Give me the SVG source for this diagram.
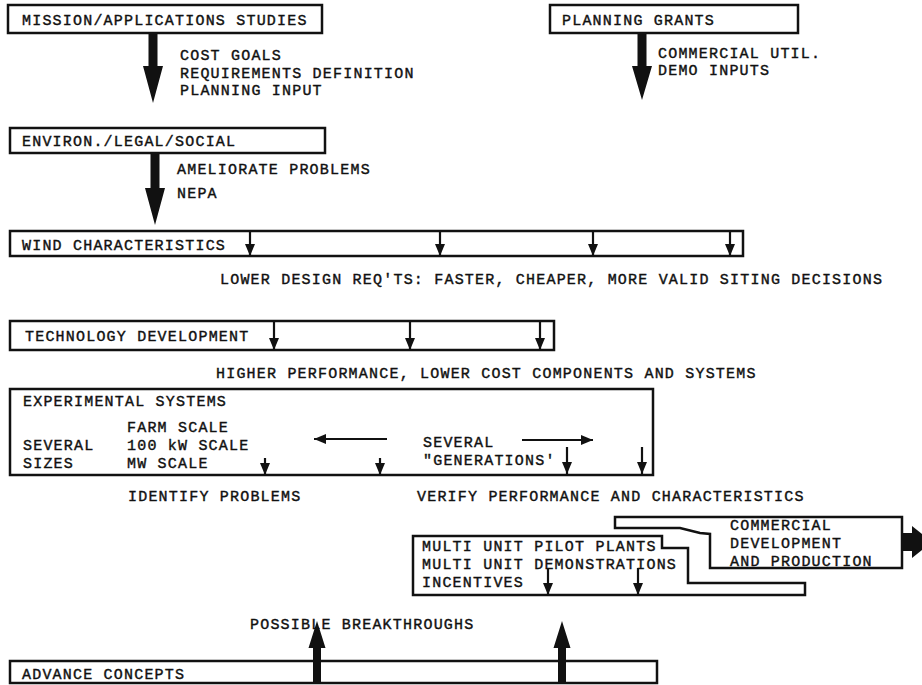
<svg xmlns="http://www.w3.org/2000/svg" width="922" height="685" viewBox="0 0 922 685">
<style>
text{font-family:"Liberation Mono","DejaVu Sans Mono",monospace;font-size:15px;letter-spacing:1.2px;fill:#111;stroke:#111;stroke-width:0.4}
.box{fill:none;stroke:#111;stroke-width:2.5}
.sa{stroke:#111;stroke-width:2.2;fill:none;marker-end:url(#tri)}
.big{fill:#111;stroke:none}
</style>
<defs>
<marker id="tri" viewBox="0 0 12 10" refX="12" refY="5" markerWidth="13" markerHeight="10" markerUnits="userSpaceOnUse" orient="auto">
<path d="M0,0 L12,5 L0,10 Z" fill="#111"/>
</marker>
</defs>
<rect width="922" height="685" fill="#fff"/>

<g id="mission">
<rect class="box" x="8" y="5" width="314" height="28"/>
<text x="22" y="25">MISSION/APPLICATIONS STUDIES</text>
</g>
<g id="planning">
<rect class="box" x="550" y="5" width="248" height="28"/>
<text x="562" y="25">PLANNING GRANTS</text>
</g>
<g id="environ">
<rect class="box" x="10" y="128" width="315" height="25"/>
<text x="22" y="146">ENVIRON./LEGAL/SOCIAL</text>
</g>
<g id="wind">
<rect class="box" x="10" y="231" width="733" height="25"/>
<text x="22" y="250">WIND CHARACTERISTICS</text>
</g>
<g id="tech">
<rect class="box" x="10" y="321" width="544" height="29"/>
<text x="25" y="341">TECHNOLOGY DEVELOPMENT</text>
</g>
<g id="experimental">
<rect class="box" x="10" y="389" width="643" height="86"/>
<text x="23" y="406">EXPERIMENTAL SYSTEMS</text>
<text x="127" y="432">FARM SCALE</text>
<text x="127" y="450">100 kW SCALE</text>
<text x="127" y="468">MW SCALE</text>
<text x="23" y="450">SEVERAL</text>
<text x="23" y="468">SIZES</text>
<text x="423" y="447">SEVERAL</text>
<text x="423" y="465">"GENERATIONS'</text>
</g>
<g id="multi">
<path class="box" d="M413,536 H662 V548 H688 V583 H805 V595 H413 Z"/>
<text x="422" y="551">MULTI UNIT PILOT PLANTS</text>
<text x="422" y="569">MULTI UNIT DEMONSTRATIONS</text>
<text x="422" y="587">INCENTIVES</text>
</g>
<g id="commercial">
<path class="box" d="M615,517 H902 V568 H710 V534 L700,533 L680,528 H615 Z"/>
<text x="730" y="530">COMMERCIAL</text>
<text x="730" y="548">DEVELOPMENT</text>
<text x="730" y="566">AND PRODUCTION</text>
</g>
<g id="advance">
<rect class="box" x="10" y="661" width="647" height="22"/>
<text x="22" y="679">ADVANCE CONCEPTS</text>
</g>

<g id="connectors">
<polygon class="big" points="148.5,33 157.5,33 157.5,66 163,66 153,103 143,66 148.5,66"/>
<polygon class="big" points="637.5,33 646.5,33 646.5,66 652,66 642,100 632,66 637.5,66"/>
<polygon class="big" points="150.5,153 159.5,153 159.5,188 165,188 155,225 145,188 150.5,188"/>
<line class="sa" x1="250" y1="232" x2="250" y2="256"/>
<line class="sa" x1="440" y1="232" x2="440" y2="256"/>
<line class="sa" x1="593" y1="232" x2="593" y2="256"/>
<line class="sa" x1="730" y1="232" x2="730" y2="256"/>
<line class="sa" x1="274" y1="322" x2="274" y2="350"/>
<line class="sa" x1="410" y1="322" x2="410" y2="350"/>
<line class="sa" x1="540" y1="322" x2="540" y2="350"/>
<line class="sa" x1="387" y1="439" x2="314" y2="439"/>
<line class="sa" x1="522" y1="440" x2="593" y2="440"/>
<line class="sa" x1="265" y1="458" x2="265" y2="475"/>
<line class="sa" x1="380" y1="458" x2="380" y2="475"/>
<line class="sa" x1="567" y1="447" x2="567" y2="474"/>
<line class="sa" x1="642" y1="447" x2="642" y2="474"/>
<line class="sa" x1="548" y1="568" x2="548" y2="595"/>
<line class="sa" x1="638" y1="568" x2="638" y2="595"/>
<polygon class="big" points="902,533 912,533 912,526 932,542 912,558 912,551 902,551"/>
<polygon class="big" points="317,621 325.5,648 321,648 321,683 313,683 313,648 308.5,648"/>
<polygon class="big" points="562,621 570.5,648 566,648 566,683 558,683 558,648 553.5,648"/>
</g>

<g id="labels">
<text x="180" y="60">COST GOALS</text>
<text x="180" y="77.5">REQUIREMENTS DEFINITION</text>
<text x="180" y="95">PLANNING INPUT</text>
<text x="658" y="57.5">COMMERCIAL UTIL.</text>
<text x="658" y="75">DEMO INPUTS</text>
<text x="177" y="174">AMELIORATE PROBLEMS</text>
<text x="177" y="198">NEPA</text>
<text x="220" y="284">LOWER DESIGN REQ'TS: FASTER, CHEAPER, MORE VALID SITING DECISIONS</text>
<text x="216" y="378">HIGHER PERFORMANCE, LOWER COST COMPONENTS AND SYSTEMS</text>
<text x="128" y="501">IDENTIFY PROBLEMS</text>
<text x="417" y="501">VERIFY PERFORMANCE AND CHARACTERISTICS</text>
<text x="250" y="629">POSSIBLE BREAKTHROUGHS</text>
</g>
</svg>
